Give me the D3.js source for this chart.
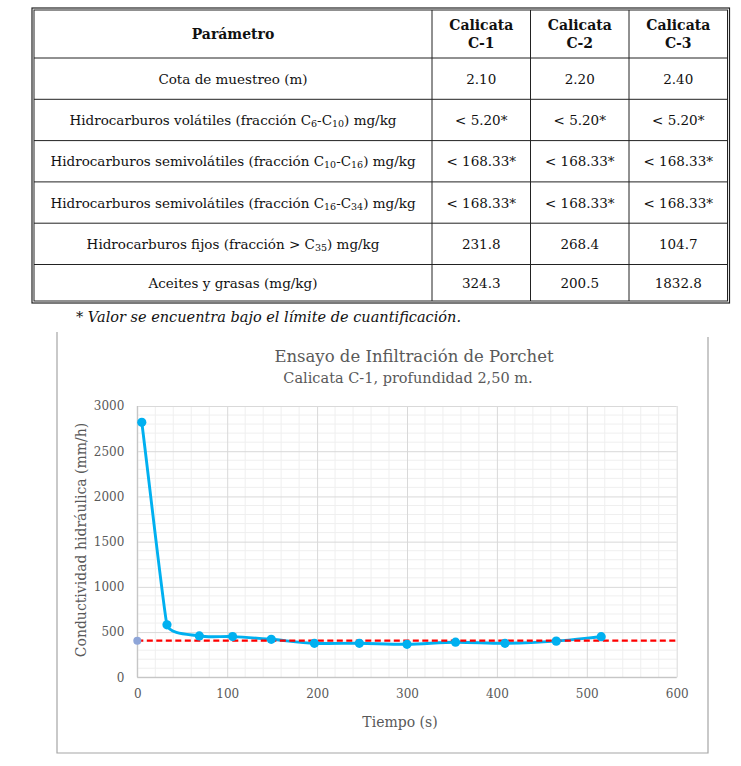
<!DOCTYPE html>
<html>
<head>
<meta charset="utf-8">
<script src="https://cdn.jsdelivr.net/npm/d3@7"></script>
<style>
  body { margin: 0; background: #fff; }
  svg { display: block; }
</style>
</head>
<body>
<div id="page"></div>
<script>
// table data
const headers = ["Parámetro", "Calicata|C-1", "Calicata|C-2", "Calicata|C-3"];
const params = [
	"Cota de muestreo (m)",
	"Hidrocarburos volátiles (fracción C{6}-C{10}) mg/kg",
	"Hidrocarburos semivolátiles (fracción C{10}-C{16}) mg/kg",
	"Hidrocarburos semivolátiles (fracción C{16}-C{34}) mg/kg",
	"Hidrocarburos fijos (fracción > C{35}) mg/kg",
	"Aceites y grasas (mg/kg)"
];
const valuesC1 = ["2.10", "< 5.20*", "< 168.33*", "< 168.33*", "231.8", "324.3"];
const valuesC2 = ["2.20", "< 5.20*", "< 168.33*", "< 168.33*", "268.4", "200.5"];
const valuesC3 = ["2.40", "< 5.20*", "< 168.33*", "< 168.33*", "104.7", "1832.8"];
const footnote = "* Valor se encuentra bajo el límite de cuantificación.";

// chart data
const tiempo = [5, 33, 69, 106, 149, 197, 247, 300, 354, 409, 466, 516];
const conductividad = [2820, 580, 457, 450, 420, 376, 376, 365, 388, 376, 400, 449];
const limite = 405;
const xTicks = [0, 100, 200, 300, 400, 500, 600];
const yTicks = [0, 500, 1000, 1500, 2000, 2500, 3000];
const title = "Ensayo de Infiltración de Porchet";
const subtitle = "Calicata C-1, profundidad 2,50 m.";
const xTitle = "Tiempo (s)";
const yTitle = "Conductividad hidráulica (mm/h)";

const width = 741;
const height = 766;

// pick a serif face that is really installed
const ctx = document.createElement("canvas").getContext("2d");
const hasFont = (f) => {
	ctx.font = `20px '${f}', monospace`;
	const a = ctx.measureText("Hidrocarburos 0123").width;
	ctx.font = "20px monospace";
	return a !== ctx.measureText("Hidrocarburos 0123").width;
};
const useDejaVu = hasFont("DejaVu Serif");
const serif = useDejaVu ? "'DejaVu Serif', serif" : "'Liberation Serif', serif";
const fs = (px) => (useDejaVu ? px : px * 1.17) + "px";

const svg = d3.select("#page")
	.append("svg")
		.attr("width", width)
		.attr("height", height);

// ---------- table ----------
const colEdges = [34, 432, 530.5, 629, 727.5];
const rowEdges = [10, 58, 99.3, 140.6, 181.9, 223.2, 264.5, 301];
const table = svg.append("g").attr("class", "table");

table.append("rect")
	.attr("x", 32).attr("y", 8)
	.attr("width", 697.5).attr("height", 295)
	.style("fill", "none").style("stroke", "#222").style("stroke-width", 1.2);
table.append("rect")
	.attr("x", colEdges[0]).attr("y", rowEdges[0])
	.attr("width", colEdges[4] - colEdges[0]).attr("height", rowEdges[7] - rowEdges[0])
	.style("fill", "none").style("stroke", "#222").style("stroke-width", 1);

table.selectAll(".hline")
	.data(rowEdges.slice(1, -1)).enter()
	.append("line")
		.attr("x1", colEdges[0]).attr("x2", colEdges[4])
		.attr("y1", (d) => d).attr("y2", (d) => d)
		.style("stroke", "#222").style("stroke-width", 1);
table.selectAll(".vline")
	.data(colEdges.slice(1, -1)).enter()
	.append("line")
		.attr("x1", (d) => d).attr("x2", (d) => d)
		.attr("y1", rowEdges[0]).attr("y2", rowEdges[7])
		.style("stroke", "#222").style("stroke-width", 1);

const colCenter = (i) => (colEdges[i] + colEdges[i + 1]) / 2;
const rowCenter = (i) => (rowEdges[i] + rowEdges[i + 1]) / 2;

// header
headers.forEach((h, i) => {
	const lines = h.split("|");
	const t = table.append("text")
		.attr("x", colCenter(i))
		.attr("text-anchor", "middle")
		.style("font-family", serif).style("font-size", fs(14)).style("font-weight", "bold")
		.style("fill", "#111");
	lines.forEach((l, j) => {
		t.append("tspan")
			.attr("x", colCenter(i))
			.attr("y", rowCenter(0) + 5 + (j - (lines.length - 1) / 2) * 18)
			.text(l);
	});
});

// body rows
const cols = [valuesC1, valuesC2, valuesC3];
params.forEach((p, r) => {
	const t = table.append("text")
		.attr("x", colCenter(0))
		.attr("y", rowCenter(r + 1) + 5)
		.attr("text-anchor", "middle")
		.style("font-family", serif).style("font-size", fs(13.5)).style("fill", "#111");
	p.split(/\{(\d+)\}/).forEach((part, k) => {
		if (!part) return;
		const sp = t.append("tspan").text(part);
		if (k % 2 === 1) sp.style("font-size", fs(9.5)).attr("dy", 2);
		else if (k > 0) sp.attr("dy", -2);
	});
	cols.forEach((vals, c) => {
		table.append("text")
			.attr("x", colCenter(c + 1))
			.attr("y", rowCenter(r + 1) + 5)
			.attr("text-anchor", "middle")
			.style("font-family", serif).style("font-size", fs(13.5)).style("fill", "#111")
			.text(vals[r]);
	});
});

svg.append("text")
	.attr("x", 76).attr("y", 322)
	.style("font-family", serif).style("font-size", fs(14.5)).style("font-style", "italic")
	.style("fill", "#111")
	.text(footnote);

// ---------- chart ----------
svg.append("path")
	.attr("d", "M57,332V753H708V337")
	.style("fill", "none").style("stroke", "#a6a6a6").style("stroke-width", 1.2);

const x = d3.scaleLinear().domain([0, 600]).range([137.3, 676.7]);
const y = d3.scaleLinear().domain([0, 3000]).range([677.3, 406]);

const plot = svg.append("g").attr("class", "plot");

// minor grid
plot.append("g")
	.selectAll("line")
	.data(d3.range(0, 601, 20).filter((v) => v % 100 !== 0)).enter()
	.append("line")
		.attr("x1", (d) => x(d)).attr("x2", (d) => x(d))
		.attr("y1", y(0)).attr("y2", y(3000))
		.style("stroke", "#efefef").style("stroke-width", 1);
plot.append("g")
	.selectAll("line")
	.data(d3.range(0, 3001, 100).filter((v) => v % 500 !== 0)).enter()
	.append("line")
		.attr("x1", x(0)).attr("x2", x(600))
		.attr("y1", (d) => y(d)).attr("y2", (d) => y(d))
		.style("stroke", "#efefef").style("stroke-width", 1);

// major grid + axes
const xAxis = d3.axisBottom(x)
	.tickValues(xTicks).tickFormat(d3.format("d"))
	.tickSize(-(y(0) - y(3000))).tickPadding(12);
const yAxis = d3.axisLeft(y)
	.tickValues(yTicks).tickFormat(d3.format("d"))
	.tickSize(-(x(600) - x(0))).tickPadding(13);

plot.append("g")
	.attr("transform", `translate(0,${y(0)})`)
	.call(xAxis)
	.call((g) => g.select(".domain").remove());
plot.append("g")
	.attr("transform", `translate(${x(0)},0)`)
	.call(yAxis)
	.call((g) => g.select(".domain").remove());

plot.selectAll(".tick line").style("stroke", "#d9d9d9");
plot.selectAll(".tick text")
	.style("font-family", serif).style("font-size", fs(12)).style("fill", "#595959");

plot.append("line")
	.attr("x1", x(0)).attr("x2", x(0)).attr("y1", y(0)).attr("y2", y(3000))
	.style("stroke", "#bfbfbf");
plot.append("line")
	.attr("x1", x(0)).attr("x2", x(600)).attr("y1", y(0)).attr("y2", y(0))
	.style("stroke", "#bfbfbf");

// smoothed line: tangent along the neighbours, handle length from the shorter adjacent segment
const smoothPath = (pts) => {
	const p = d3.path();
	const n = pts.length;
	const dist = (a, b) => Math.hypot(b[0] - a[0], b[1] - a[1]);
	const tan = pts.map((pt, i) => {
		const a = pts[Math.max(i - 1, 0)];
		const b = pts[Math.min(i + 1, n - 1)];
		const l = dist(a, b);
		return [(b[0] - a[0]) / l, (b[1] - a[1]) / l];
	});
	const reach = pts.map((pt, i) => {
		const ds = [];
		if (i > 0) ds.push(dist(pts[i - 1], pt));
		if (i < n - 1) ds.push(dist(pt, pts[i + 1]));
		return 0.3 * d3.min(ds);
	});
	p.moveTo(pts[0][0], pts[0][1]);
	for (let i = 0; i < n - 1; i++) {
		const a = pts[i];
		const b = pts[i + 1];
		p.bezierCurveTo(a[0] + tan[i][0] * reach[i], a[1] + tan[i][1] * reach[i],
			b[0] - tan[i + 1][0] * reach[i + 1], b[1] - tan[i + 1][1] * reach[i + 1], b[0], b[1]);
	}
	return p.toString();
};

const points = tiempo.map((t, i) => ({ t: t, k: conductividad[i] }));

plot.append("path")
	.datum(points)
	.attr("d", (d) => smoothPath(d.map((p) => [x(p.t), y(p.k)])))
	.style("fill", "none")
	.style("stroke", "#00b0f0")
	.style("stroke-width", 2.9);

plot.append("line")
	.attr("x1", x(0)).attr("x2", x(600))
	.attr("y1", y(limite)).attr("y2", y(limite))
	.style("stroke", "#ff0000")
	.style("stroke-width", 2.3)
	.style("stroke-dasharray", "6,3.5");

plot.append("circle")
	.attr("cx", x(0)).attr("cy", y(limite)).attr("r", 4)
	.style("fill", "#8ea5d8");

plot.selectAll(".pt")
	.data(points).enter()
	.append("circle")
		.attr("class", "pt")
		.attr("cx", (d) => x(d.t))
		.attr("cy", (d) => y(d.k))
		.attr("r", 4.6)
		.style("fill", "#00b0f0");

// titles
const labels = svg.append("g")
	.style("font-family", serif).style("fill", "#595959")
	.attr("text-anchor", "middle");
labels.append("text").attr("x", 414).attr("y", 362).style("font-size", fs(16.5)).text(title);
labels.append("text").attr("x", 408).attr("y", 383).style("font-size", fs(14.5)).text(subtitle);
labels.append("text").attr("x", 400).attr("y", 727).style("font-size", fs(14)).text(xTitle);
labels.append("text")
	.attr("transform", "translate(86,540) rotate(-90)")
	.style("font-size", fs(14))
	.text(yTitle);
</script>
</body>
</html>
